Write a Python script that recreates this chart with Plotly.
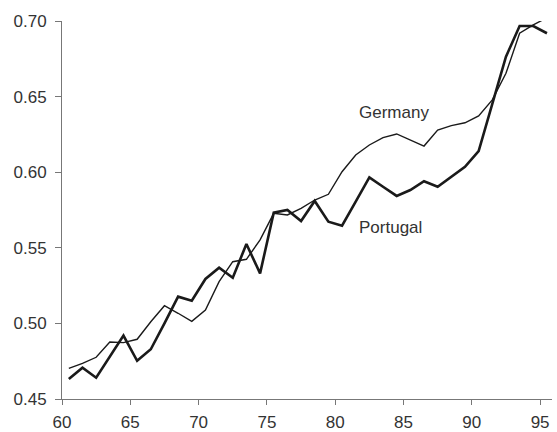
import plotly.graph_objects as go

years = [60.5 + i for i in range(36)]

germany = [0.4703, 0.4736, 0.4776, 0.4877, 0.4873, 0.4895, 0.5011, 0.5117, 0.5067, 0.5014,
           0.5089, 0.5276, 0.5408, 0.5424, 0.5552, 0.5728, 0.5717, 0.5761, 0.5816, 0.5854,
           0.6003, 0.6114, 0.6180, 0.6229, 0.6253, 0.6213, 0.6173, 0.6279, 0.6308, 0.6327,
           0.6372, 0.6478, 0.6654, 0.6919, 0.6974, 0.7022]

portugal = [0.4632, 0.4707, 0.4641, 0.4780, 0.4919, 0.4753, 0.4829, 0.5000, 0.5177, 0.5150,
            0.5294, 0.5368, 0.5302, 0.5525, 0.5331, 0.5732, 0.5750, 0.5677, 0.5810, 0.5673,
            0.5646, 0.5806, 0.5966, 0.5904, 0.5843, 0.5882, 0.5940, 0.5904, 0.5970, 0.6036,
            0.6140, 0.6450, 0.6764, 0.6967, 0.6967, 0.6919]

x_ticks = [60, 65, 70, 75, 80, 85, 90, 95]
y_ticks = [0.45, 0.50, 0.55, 0.60, 0.65, 0.70]
y_tick_labels = ["0.45", "0.50", "0.55", "0.60", "0.65", "0.70"]

font_family = "Liberation Sans, Arial, sans-serif"
text_color = "#333333"
axis_color = "#777777"

fig = go.Figure()
fig.add_trace(go.Scatter(x=years, y=germany, mode="lines", name="Germany",
                         line=dict(color="#1a1a1a", width=1.4)))
fig.add_trace(go.Scatter(x=years, y=portugal, mode="lines", name="Portugal",
                         line=dict(color="#1a1a1a", width=2.6)))

fig.add_annotation(x=81.6, y=0.6392, text="Germany", showarrow=False, xanchor="left",
                   yanchor="middle", font=dict(size=17, color=text_color, family=font_family))
fig.add_annotation(x=81.6, y=0.5635, text="Portugal", showarrow=False, xanchor="left",
                   yanchor="middle", font=dict(size=17, color=text_color, family=font_family))

fig.update_layout(
    width=557, height=432,
    margin=dict(l=62, r=5, t=21, b=33),
    paper_bgcolor="white", plot_bgcolor="white",
    showlegend=False,
    font=dict(family=font_family, size=17, color=text_color),
    xaxis=dict(range=[60, 95.87], tickvals=x_ticks, ticks="outside", ticklen=5,
               tickcolor=axis_color, showline=True, linecolor=axis_color, linewidth=1,
               showgrid=False, zeroline=False, fixedrange=True, automargin=False,
               ticklabelstandoff=3),
    yaxis=dict(range=[0.45, 0.70], tickvals=y_ticks, ticktext=y_tick_labels, ticks="outside",
               ticklen=6, tickcolor=axis_color, showline=True, linecolor=axis_color,
               linewidth=1, showgrid=False, zeroline=False, fixedrange=True, automargin=False,
               ticklabelstandoff=5),
)

fig.write_html("out.html", config={"displayModeBar": False},
               post_script="document.body.style.margin='0';document.body.style.padding='0';")
